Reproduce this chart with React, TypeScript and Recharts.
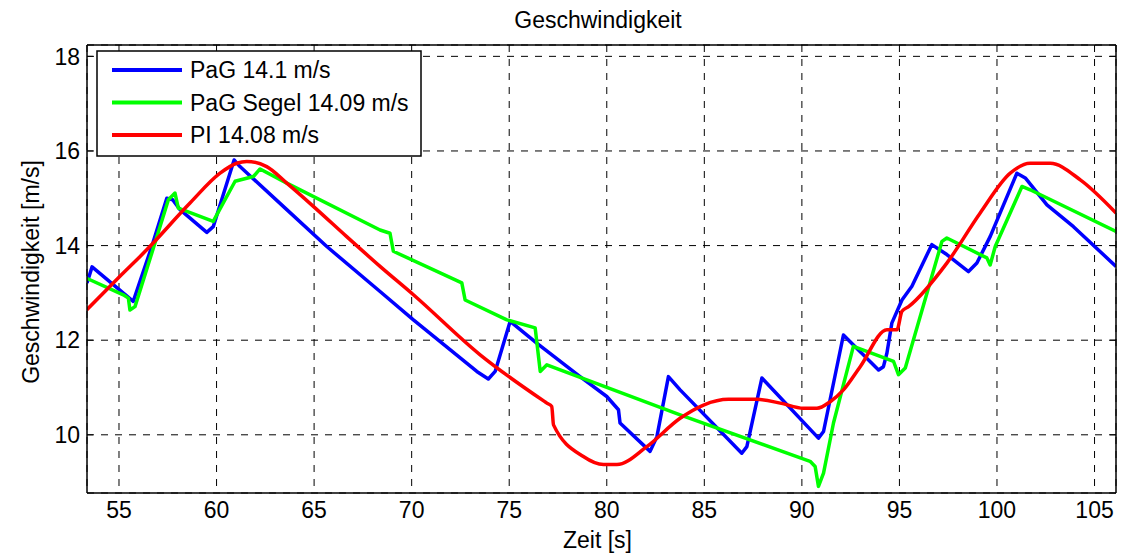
import React from "react";
import { LineChart, Line, XAxis, YAxis, CartesianGrid } from "recharts";

const xTicks = [55, 60, 65, 70, 75, 80, 85, 90, 95, 100, 105];
const yTicks = [10, 12, 14, 16, 18];

// PaG 14.1 m/s
const pagT = [53.36, 53.62, 55.73, 55.99, 56.68, 57.45, 57.75, 58.13, 59.5, 59.83, 60.9, 61.2, 63.6, 65.65, 68.38, 70.09, 73.34, 73.93, 74.28, 75.05, 76.41, 78.63, 80.0, 80.6, 80.68, 82.22, 82.57, 83.16, 83.76, 86.92, 87.18, 87.95, 90.85, 91.11, 92.13, 93.93, 94.18, 94.36, 94.61, 95.13, 95.64, 96.66, 97.43, 98.54, 98.97, 99.65, 101.02, 101.45, 102.56, 103.92, 106.1];
const pagV = [13.21, 13.55, 12.82, 13.14, 13.98, 15.0, 14.97, 14.76, 14.28, 14.4, 15.81, 15.67, 14.76, 13.98, 13.03, 12.43, 11.34, 11.18, 11.34, 12.4, 11.94, 11.23, 10.81, 10.53, 10.25, 9.65, 9.96, 11.23, 10.95, 9.61, 9.75, 11.2, 9.93, 10.07, 12.11, 11.37, 11.44, 11.73, 12.36, 12.85, 13.14, 14.02, 13.81, 13.45, 13.63, 14.19, 15.53, 15.43, 14.86, 14.4, 13.56];

// PaG Segel 14.09 m/s
const segelT = [53.34, 55.22, 55.48, 55.56, 55.82, 56.68, 57.53, 57.87, 58.04, 59.83, 60.95, 61.89, 62.23, 63.6, 68.38, 68.89, 69.06, 72.57, 72.74, 74.88, 76.33, 76.59, 76.93, 83.76, 90.42, 90.68, 90.85, 91.11, 91.62, 92.64, 94.7, 94.95, 95.3, 97.18, 97.43, 99.48, 99.65, 99.91, 101.28, 101.7, 106.1];
const segelV = [13.31, 12.96, 12.89, 12.64, 12.71, 13.84, 14.97, 15.11, 14.79, 14.51, 15.36, 15.46, 15.62, 15.32, 14.33, 14.26, 13.88, 13.21, 12.85, 12.43, 12.26, 11.34, 11.48, 10.42, 9.44, 9.33, 8.91, 9.19, 10.25, 11.87, 11.55, 11.27, 11.41, 14.09, 14.16, 13.74, 13.59, 13.98, 15.25, 15.18, 14.3];

// PI 14.08 m/s
const piT = [53.34, 55.05, 56.42, 58.64, 60.18, 61.03, 61.55, 62.57, 63.6, 64.96, 66.67, 68.38, 70.09, 73.51, 76.93, 77.18, 77.27, 78.8, 79.83, 80.52, 82.05, 83.76, 84.96, 86.24, 87.69, 88.89, 90.08, 90.77, 91.45, 92.13, 92.99, 94.36, 94.87, 95.13, 95.47, 97.43, 99.14, 100.68, 101.7, 102.73, 104.27, 106.1];
const piV = [12.64, 13.35, 13.91, 14.9, 15.53, 15.74, 15.78, 15.67, 15.32, 14.83, 14.19, 13.56, 12.96, 11.69, 10.67, 10.6, 10.21, 9.54, 9.37, 9.37, 9.75, 10.35, 10.63, 10.75, 10.75, 10.67, 10.56, 10.56, 10.7, 10.95, 11.44, 12.22, 12.22, 12.61, 12.71, 13.63, 14.69, 15.53, 15.74, 15.74, 15.39, 14.69];

const seriesNames = ["PaG 14.1 m/s", "PaG Segel 14.09 m/s", "PI 14.08 m/s"];
const seriesColors = ["#0000ff", "#00ff00", "#ff0000"];
const seriesCurves = ["linear", "linear", "monotone"];

const toRows = (t: number[], v: number[]) => t.map((x, i) => ({ t: x, v: v[i] }));
const seriesData = [toRows(pagT, pagV), toRows(segelT, segelV), toRows(piT, piV)];

const font = "'Liberation Sans', Arial, sans-serif";
const fs = 23;
const xDomain = [53.36, 106.1];
const yDomain = [8.77, 18.24];

const noTick = () => <g />;

export default function App() {
  return (
    <div style={{ position: "absolute", left: 0, top: 0, background: "#fff" }}>
      <LineChart width={1124} height={555} margin={{ top: 45, right: 8, left: 0, bottom: 0 }}>
        <text x={598} y={28} textAnchor="middle" fontFamily={font} fontSize={fs} fill="#000">
          Geschwindigkeit
        </text>
        <CartesianGrid stroke="#000" strokeDasharray="7 7" />
        <XAxis
          type="number"
          dataKey="t"
          domain={xDomain}
          ticks={xTicks}
          allowDataOverflow
          height={62}
          tickLine={false}
          tickSize={6}
          tickMargin={3}
          axisLine={{ stroke: "#000", strokeWidth: 1.5 }}
          tick={{ fill: "#000", fontSize: fs, fontFamily: font }}
          label={{ value: "Zeit [s]", position: "center", dy: 16, dx: -4, fill: "#000", fontSize: fs, fontFamily: font }}
        />
        <XAxis
          xAxisId="bt"
          type="number"
          domain={xDomain}
          ticks={xTicks}
          allowDataOverflow
          mirror
          tickSize={6}
          axisLine={false}
          tickLine={{ stroke: "#000" }}
          tick={noTick}
        />
        <XAxis
          xAxisId="top"
          orientation="top"
          type="number"
          domain={xDomain}
          ticks={xTicks}
          allowDataOverflow
          mirror
          tickSize={6}
          axisLine={{ stroke: "#000", strokeWidth: 1.5 }}
          tickLine={{ stroke: "#000" }}
          tick={noTick}
        />
        <YAxis
          type="number"
          domain={yDomain}
          ticks={yTicks}
          allowDataOverflow
          width={87}
          tickLine={false}
          tickSize={5}
          tickMargin={2}
          axisLine={{ stroke: "#000", strokeWidth: 1.5 }}
          tick={{ fill: "#000", fontSize: fs, fontFamily: font }}
          label={{ value: "Geschwindigkeit [m/s]", angle: -90, position: "center", dx: -13, dy: 3, fill: "#000", fontSize: fs, fontFamily: font }}
        />
        <YAxis
          yAxisId="lt"
          type="number"
          domain={yDomain}
          ticks={yTicks}
          allowDataOverflow
          mirror
          tickSize={6}
          axisLine={false}
          tickLine={{ stroke: "#000" }}
          tick={noTick}
        />
        <YAxis
          yAxisId="right"
          orientation="right"
          type="number"
          domain={yDomain}
          ticks={yTicks}
          allowDataOverflow
          mirror
          tickSize={6}
          axisLine={{ stroke: "#000", strokeWidth: 1.5 }}
          tickLine={{ stroke: "#000" }}
          tick={noTick}
        />
        {seriesData.map((rows, i) => (
          <Line
            key={seriesNames[i]}
            data={rows}
            dataKey="v"
            name={seriesNames[i]}
            type={seriesCurves[i] as any}
            stroke={seriesColors[i]}
            strokeWidth={3.5}
            strokeLinejoin="round"
            dot={false}
            isAnimationActive={false}
          />
        ))}
        <g>
          <rect x={97} y={51} width={324} height={105} fill="#fff" stroke="#000" strokeWidth={1.5} />
          {seriesNames.map((name, i) => (
            <g key={name}>
              <line x1={112} x2={182} y1={70 + i * 32.5} y2={70 + i * 32.5} stroke={seriesColors[i]} strokeWidth={4} />
              <text x={190} y={70 + i * 32.5} dominantBaseline="central" fontFamily={font} fontSize={fs} fill="#000">
                {name}
              </text>
            </g>
          ))}
        </g>
      </LineChart>
    </div>
  );
}
